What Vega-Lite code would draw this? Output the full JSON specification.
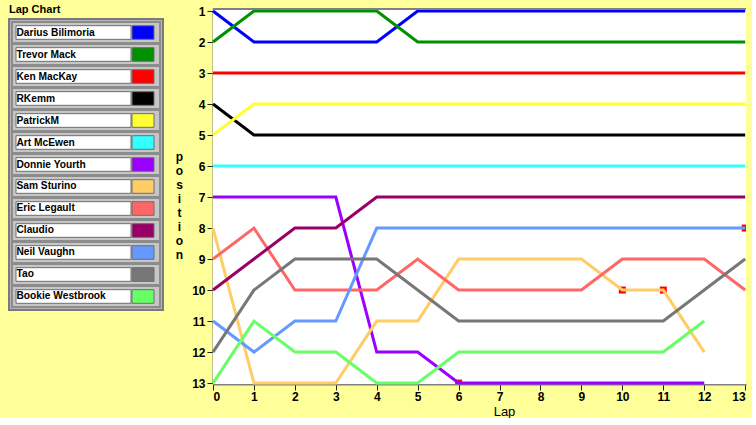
{
  "$schema": "https://vega.github.io/schema/vega-lite/v6.json",
  "background": "#ffff99",
  "padding": {"left": 8, "top": 3, "right": 0, "bottom": 0},
  "config": {"font": "Liberation Sans", "concat": {"spacing": 11}},
  "datasets": {
    "laps": [
      {"lap": 0, "Darius Bilimoria": 1, "Trevor Mack": 2, "Ken MacKay": 3, "RKemm": 4, "PatrickM": 5, "Art McEwen": 6, "Donnie Yourth": 7, "Sam Sturino": 8, "Eric Legault": 9, "Claudio": 10, "Neil Vaughn": 11, "Tao": 12, "Bookie Westbrook": 13},
      {"lap": 1, "Darius Bilimoria": 2, "Trevor Mack": 1, "Ken MacKay": 3, "RKemm": 5, "PatrickM": 4, "Art McEwen": 6, "Donnie Yourth": 7, "Sam Sturino": 13, "Eric Legault": 8, "Claudio": 9, "Neil Vaughn": 12, "Tao": 10, "Bookie Westbrook": 11},
      {"lap": 2, "Darius Bilimoria": 2, "Trevor Mack": 1, "Ken MacKay": 3, "RKemm": 5, "PatrickM": 4, "Art McEwen": 6, "Donnie Yourth": 7, "Sam Sturino": 13, "Eric Legault": 10, "Claudio": 8, "Neil Vaughn": 11, "Tao": 9, "Bookie Westbrook": 12},
      {"lap": 3, "Darius Bilimoria": 2, "Trevor Mack": 1, "Ken MacKay": 3, "RKemm": 5, "PatrickM": 4, "Art McEwen": 6, "Donnie Yourth": 7, "Sam Sturino": 13, "Eric Legault": 10, "Claudio": 8, "Neil Vaughn": 11, "Tao": 9, "Bookie Westbrook": 12},
      {"lap": 4, "Darius Bilimoria": 2, "Trevor Mack": 1, "Ken MacKay": 3, "RKemm": 5, "PatrickM": 4, "Art McEwen": 6, "Donnie Yourth": 12, "Sam Sturino": 11, "Eric Legault": 10, "Claudio": 7, "Neil Vaughn": 8, "Tao": 9, "Bookie Westbrook": 13},
      {"lap": 5, "Darius Bilimoria": 1, "Trevor Mack": 2, "Ken MacKay": 3, "RKemm": 5, "PatrickM": 4, "Art McEwen": 6, "Donnie Yourth": 12, "Sam Sturino": 11, "Eric Legault": 9, "Claudio": 7, "Neil Vaughn": 8, "Tao": 10, "Bookie Westbrook": 13},
      {"lap": 6, "Darius Bilimoria": 1, "Trevor Mack": 2, "Ken MacKay": 3, "RKemm": 5, "PatrickM": 4, "Art McEwen": 6, "Donnie Yourth": 13, "Sam Sturino": 9, "Eric Legault": 10, "Claudio": 7, "Neil Vaughn": 8, "Tao": 11, "Bookie Westbrook": 12},
      {"lap": 7, "Darius Bilimoria": 1, "Trevor Mack": 2, "Ken MacKay": 3, "RKemm": 5, "PatrickM": 4, "Art McEwen": 6, "Donnie Yourth": 13, "Sam Sturino": 9, "Eric Legault": 10, "Claudio": 7, "Neil Vaughn": 8, "Tao": 11, "Bookie Westbrook": 12},
      {"lap": 8, "Darius Bilimoria": 1, "Trevor Mack": 2, "Ken MacKay": 3, "RKemm": 5, "PatrickM": 4, "Art McEwen": 6, "Donnie Yourth": 13, "Sam Sturino": 9, "Eric Legault": 10, "Claudio": 7, "Neil Vaughn": 8, "Tao": 11, "Bookie Westbrook": 12},
      {"lap": 9, "Darius Bilimoria": 1, "Trevor Mack": 2, "Ken MacKay": 3, "RKemm": 5, "PatrickM": 4, "Art McEwen": 6, "Donnie Yourth": 13, "Sam Sturino": 9, "Eric Legault": 10, "Claudio": 7, "Neil Vaughn": 8, "Tao": 11, "Bookie Westbrook": 12},
      {"lap": 10, "Darius Bilimoria": 1, "Trevor Mack": 2, "Ken MacKay": 3, "RKemm": 5, "PatrickM": 4, "Art McEwen": 6, "Donnie Yourth": 13, "Sam Sturino": 10, "Eric Legault": 9, "Claudio": 7, "Neil Vaughn": 8, "Tao": 11, "Bookie Westbrook": 12},
      {"lap": 11, "Darius Bilimoria": 1, "Trevor Mack": 2, "Ken MacKay": 3, "RKemm": 5, "PatrickM": 4, "Art McEwen": 6, "Donnie Yourth": 13, "Sam Sturino": 10, "Eric Legault": 9, "Claudio": 7, "Neil Vaughn": 8, "Tao": 11, "Bookie Westbrook": 12},
      {"lap": 12, "Darius Bilimoria": 1, "Trevor Mack": 2, "Ken MacKay": 3, "RKemm": 5, "PatrickM": 4, "Art McEwen": 6, "Donnie Yourth": 13, "Sam Sturino": 12, "Eric Legault": 9, "Claudio": 7, "Neil Vaughn": 8, "Tao": 10, "Bookie Westbrook": 11},
      {"lap": 13, "Darius Bilimoria": 1, "Trevor Mack": 2, "Ken MacKay": 3, "RKemm": 5, "PatrickM": 4, "Art McEwen": 6, "Eric Legault": 10, "Claudio": 7, "Neil Vaughn": 8, "Tao": 9}
    ],
    "pits": [
      {"lap": 6, "pos": 13},
      {"lap": 10, "pos": 10},
      {"lap": 11, "pos": 10},
      {"lap": 13, "pos": 8}
    ],
    "panel": [
      {"lap0": 0, "lap1": 13.02, "pos0": 0.935, "pos1": 13.03}
    ],
    "drivers": [
      {"idx": 1, "driver": "Darius Bilimoria"},
      {"idx": 2, "driver": "Trevor Mack"},
      {"idx": 3, "driver": "Ken MacKay"},
      {"idx": 4, "driver": "RKemm"},
      {"idx": 5, "driver": "PatrickM"},
      {"idx": 6, "driver": "Art McEwen"},
      {"idx": 7, "driver": "Donnie Yourth"},
      {"idx": 8, "driver": "Sam Sturino"},
      {"idx": 9, "driver": "Eric Legault"},
      {"idx": 10, "driver": "Claudio"},
      {"idx": 11, "driver": "Neil Vaughn"},
      {"idx": 12, "driver": "Tao"},
      {"idx": 13, "driver": "Bookie Westbrook"}
    ]
  },
  "hconcat": [
    {
      "width": 154,
      "height": 291,
      "title": {"text": "Lap Chart", "anchor": "start", "fontSize": 11, "fontWeight": "bold", "font": "Liberation Sans", "color": "black", "offset": 4},
      "view": {"fill": "#b4b4b4", "stroke": "#7a7a7a", "strokeWidth": 2},
      "data": {"name": "drivers"},
      "encoding": {
        "y": {"field": "driver", "type": "nominal", "sort": {"field": "idx"}, "axis": null,
              "scale": {"paddingInner": 0, "paddingOuter": 0.114}}
      },
      "layer": [
        {
          "mark": {"type": "rect", "fill": "#c6c6c6", "stroke": "#8c8c8c", "strokeWidth": 2, "height": {"band": 0.95}},
          "encoding": {
            "x": {"datum": 3, "type": "quantitative", "scale": {"domain": [0, 154], "nice": false, "zero": false}, "axis": null},
            "x2": {"datum": 151}
          }
        },
        {
          "mark": {"type": "rect", "fill": "white", "stroke": "#6e6e6e", "strokeWidth": 1, "height": {"band": 0.62}},
          "encoding": {
            "x": {"datum": 7, "type": "quantitative"},
            "x2": {"datum": 122}
          }
        },
        {
          "mark": {"type": "rect", "stroke": "#6e6e6e", "strokeWidth": 1, "height": {"band": 0.62}},
          "encoding": {
            "x": {"datum": 123, "type": "quantitative"},
            "x2": {"datum": 145},
            "color": {"field": "driver", "type": "nominal", "legend": null}
          }
        },
        {
          "mark": {"type": "text", "align": "left", "baseline": "middle", "fontSize": 10.2, "fontWeight": "bold", "font": "Liberation Sans", "color": "black"},
          "encoding": {
            "x": {"datum": 7.5, "type": "quantitative"},
            "text": {"field": "driver"}
          }
        }
      ]
    },
    {
      "width": 533,
      "height": 365,
      "view": {"fill": null, "stroke": null},
      "layer": [
        {
          "data": {"name": "panel"},
          "mark": {"type": "rect", "color": "white", "opacity": 1},
          "encoding": {
            "x": {"field": "lap0", "type": "quantitative"},
            "x2": {"field": "lap1"},
            "y": {"field": "pos0", "type": "quantitative"},
            "y2": {"field": "pos1"}
          }
        },
        {
          "data": {"name": "pits"},
          "mark": {"type": "square", "size": 49, "filled": true, "color": "#ff0000", "opacity": 1, "clip": true},
          "encoding": {
            "x": {"field": "lap", "type": "quantitative"},
            "y": {"field": "pos", "type": "quantitative"}
          }
        },
        {
          "data": {"name": "laps"},
          "transform": [
            {"fold": ["Darius Bilimoria", "Trevor Mack", "Ken MacKay", "RKemm", "PatrickM", "Art McEwen", "Donnie Yourth", "Sam Sturino", "Eric Legault", "Claudio", "Neil Vaughn", "Tao", "Bookie Westbrook"], "as": ["driver", "pos"]},
            {"filter": "datum.pos != null"}
          ],
          "mark": {"type": "line", "strokeWidth": 3},
          "encoding": {
            "x": {"field": "lap", "type": "quantitative"},
            "y": {"field": "pos", "type": "quantitative"},
            "color": {"field": "driver", "type": "nominal",
                      "scale": {"domain": ["Darius Bilimoria", "Trevor Mack", "Ken MacKay", "RKemm", "PatrickM", "Art McEwen", "Donnie Yourth", "Sam Sturino", "Eric Legault", "Claudio", "Neil Vaughn", "Tao", "Bookie Westbrook"],
                                "range": ["#0000ff", "#009000", "#ff0000", "#000000", "#ffff33", "#33ffff", "#9900ff", "#ffcc66", "#ff6666", "#990066", "#6699ff", "#777777", "#66ff66"]},
                      "legend": null},
            "order": {"field": "lap", "type": "quantitative"}
          }
        },
        {
          "data": {"name": "panel"},
          "mark": {"type": "rule", "color": "#808080", "strokeWidth": 2},
          "encoding": {
            "x": {"field": "lap0", "type": "quantitative"},
            "x2": {"field": "lap1"},
            "y": {"field": "pos0", "type": "quantitative"}
          }
        }
      ],
      "resolve": {"axis": {"x": "shared", "y": "shared"}},
      "encoding": {
        "x": {"type": "quantitative",
              "scale": {"domain": [0, 13.02], "nice": false, "zero": false},
              "axis": {"values": [0,1,2,3,4,5,6,7,8,9,10,11,12,13], "format": "d", "grid": false, "labelOverlap": false,
                       "domainColor": "#808080", "domainWidth": 2, "tickColor": "#222222", "tickSize": 6, "tickWidth": 1,
                       "labelFont": "Liberation Sans", "labelFontWeight": "bold", "labelFontSize": 12, "labelColor": "black", "labelPadding": 1,
                       "title": "Lap", "titleFont": "Liberation Sans", "titleFontSize": 13, "titleFontWeight": "normal", "titleColor": "black",
                       "titleX": 291, "titleAlign": "center", "titlePadding": 3}},
        "y": {"type": "quantitative",
              "scale": {"domain": [0.935, 13.03], "range": [-10, 365], "nice": false, "zero": false},
              "axis": {"values": [1,2,3,4,5,6,7,8,9,10,11,12,13], "format": "d", "grid": false, "labelOverlap": false,
                       "domainColor": "#808080", "domainWidth": 2, "tickColor": "#222222", "tickSize": 6, "tickWidth": 1,
                       "labelFont": "Liberation Sans", "labelFontWeight": "bold", "labelFontSize": 12, "labelColor": "black", "labelPadding": 2,
                       "title": ["p", "o", "s", "i", "t", "i", "o", "n"], "titleAngle": 0, "titleLineHeight": 14,
                       "titleFont": "Liberation Sans", "titleFontSize": 12, "titleFontWeight": "bold", "titleColor": "black",
                       "titleAlign": "center", "titleBaseline": "middle", "titleX": -34, "titleY": 137}}
      }
    }
  ]
}
